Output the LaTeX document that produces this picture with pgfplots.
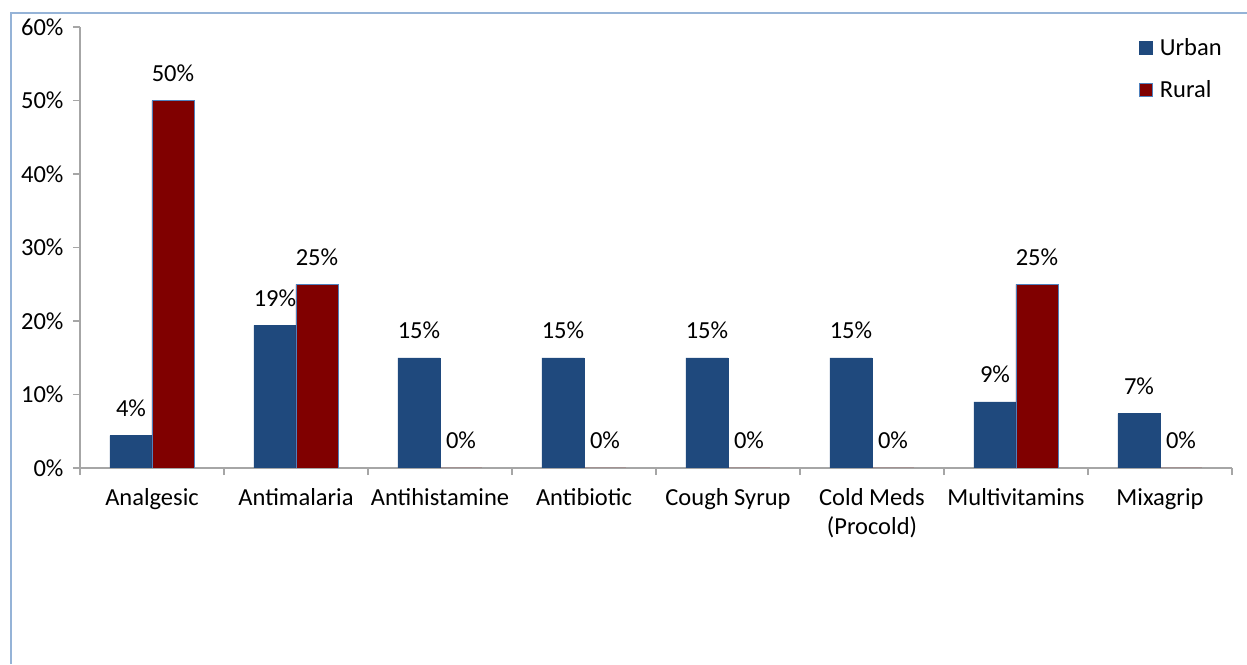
\documentclass[border=0pt]{standalone}
\usepackage{fontspec}
\setmainfont{Carlito}
\usepackage{pgfplots}
\pgfplotsset{compat=1.18}
\definecolor{urban}{HTML}{1F497D}
\definecolor{rural}{HTML}{800000}
\definecolor{ruraledge}{HTML}{4F81BD}
\definecolor{axisgray}{HTML}{A6A6A6}
\definecolor{frameblue}{HTML}{95B3D7}

\begin{document}
\begin{tikzpicture}[font=\fontsize{24.5}{29}\selectfont]
\path[use as bounding box] (0pt,0pt) rectangle (1247pt,664pt);
% chart frame
\draw[frameblue, line width=2pt] (11pt,0pt) -- (11pt,651pt) -- (1247pt,651pt);
\begin{axis}[
  at={(80pt,196pt)}, anchor=south west,
  scale only axis, width=1152pt, height=441pt,
  ybar=0pt, bar width=42pt,
  xmin=-0.5, xmax=7.5, ymin=0, ymax=60,
  axis x line*=bottom, axis y line*=left,
  axis line style={axisgray, line width=1.5pt, -},
  tick style={axisgray, line width=1.5pt},
  tick align=outside, major tick length=7pt,
  /pgf/number format/assume math mode=true,
  ytick={0,10,...,60},
  yticklabel={\pgfmathprintnumber{\tick}\%},
  yticklabel style={xshift=-6pt},
  xtick={-0.5,0.5,...,7.5},
  xticklabels={,,,,,,,,},
  extra x ticks={0,1,2,3,4,5,6,7},
  extra x tick labels={Analgesic,Antimalaria,Antihistamine,Antibiotic,Cough Syrup,{Cold Meds\\(Procold)},Multivitamins,Mixagrip},
  extra x tick style={major tick length=0pt, tick label style={align=center, yshift=-17pt}},
  nodes near coords={\pgfmathprintnumber[fixed,precision=0]{\pgfplotspointmeta}\%},
  every node near coord/.append style={anchor=base, yshift=19pt, inner sep=0pt, black},
  legend style={at={(0.919,0.975)}, anchor=north west, draw=none, fill=none,
    row sep=24pt, inner sep=0pt, nodes={inner xsep=7pt, inner ysep=0pt}},
  legend cell align=left,
]
\addplot[fill=urban, draw=urban, line width=0.5pt,
  legend image code/.code={\draw[fill=urban,draw=urban] (0pt,-6.5pt) rectangle (13pt,6.5pt);}]
  coordinates {(0,4.4) (1,19.4) (2,15) (3,15) (4,15) (5,15) (6,9) (7,7.4)};
\addlegendentry{Urban}
\addplot[fill=rural, draw=ruraledge, line width=0.8pt,
  legend image code/.code={\draw[fill=rural,draw=ruraledge,line width=1pt] (0pt,-6.5pt) rectangle (13pt,6.5pt);}]
  coordinates {(0,50) (1,25) (2,0) (3,0) (4,0) (5,0) (6,25) (7,0)};
\addlegendentry{Rural}
\end{axis}
\end{tikzpicture}
\end{document}
